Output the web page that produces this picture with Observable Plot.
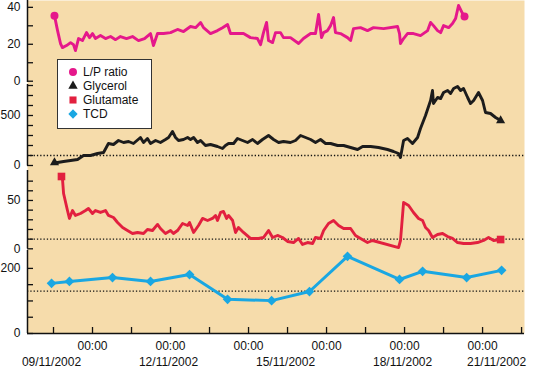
<!DOCTYPE html>
<html><head><meta charset="utf-8">
<script src="https://cdn.jsdelivr.net/npm/d3@7"></script>
<script src="https://cdn.jsdelivr.net/npm/@observablehq/plot@0.6"></script>
<style>
body{margin:0;background:#fff;}
#chart{position:relative;width:548px;height:368px;overflow:hidden;font-family:'Liberation Sans',Arial,Helvetica,sans-serif;}
#chart svg.plotlayer{position:absolute;left:0;top:0;}
#legend{position:absolute;left:57px;top:59px;width:95px;height:70px;box-sizing:border-box;border:1.5px solid #333;background:#fff;padding-top:5px;}
#legend .row{position:relative;height:14px;line-height:14px;font-size:12px;color:#111;}
#legend .row svg{position:absolute;left:8px;top:1px;}
#legend .row span{position:absolute;left:25px;top:0;}
</style></head><body>
<div id="chart"><div id="legend"></div></div>
<script>
// ---- series (hours after 09/11/2002 00:00, value) ----
const lpSeries = [[0.6,35.5],[2.5,27.4],[4.3,20.4],[5.5,18.2],[8.0,19.3],[10.5,20.9],[12.3,19.8],[13.5,16.6],[15.4,23.1],[17.8,22.0],[20.3,26.3],[22.2,23.6],[24.0,25.8],[25.8,23.1],[28.9,24.7],[32.0,23.1],[35.1,24.2],[38.2,22.5],[41.2,24.2],[44.9,23.1],[48.6,24.2],[52.3,22.0],[56.0,23.1],[59.7,25.8],[61.5,19.3],[64.0,25.8],[67.7,25.8],[72.0,26.3],[76.3,28.0],[80.0,26.9],[84.3,29.6],[87.4,29.0],[90.5,31.8],[92.3,29.0],[96.6,25.8],[100.9,27.4],[104.0,29.0],[107.1,30.7],[108.9,25.8],[113.2,25.8],[116.9,25.8],[121.2,23.6],[125.5,23.1],[127.4,19.8],[129.2,26.3],[131.1,31.8],[132.3,22.0],[134.8,20.9],[136.6,26.3],[139.7,26.3],[141.5,23.6],[145.8,23.6],[150.8,20.4],[153.8,23.1],[158.2,25.8],[161.2,25.8],[163.1,36.1],[164.9,23.6],[166.2,26.3],[168.6,27.4],[170.5,30.1],[172.3,34.5],[173.5,26.3],[176.6,25.8],[180.9,23.6],[182.8,22.0],[184.6,28.5],[188.9,29.0],[193.2,27.4],[196.9,29.0],[203.1,28.5],[211.7,29.6],[212.9,25.8],[213.5,20.4],[215.4,23.1],[217.8,25.8],[221.5,25.8],[225.8,24.7],[230.2,27.4],[232.0,31.8],[233.8,30.1],[236.3,27.4],[238.2,26.3],[240.0,30.1],[243.1,29.0],[245.5,31.2],[247.4,33.9],[249.2,41.0],[251.7,36.6],[252.9,35.0]];

const glycerolSeries = [[0.6,30],[2.5,30],[6.2,40],[10.5,50],[14.8,60],[18.5,100],[22.8,100],[27.1,120],[30.8,130],[33.8,220],[36.9,210],[40.0,250],[43.1,230],[46.2,240],[49.2,220],[53.5,280],[55.4,230],[57.8,270],[59.7,220],[62.8,250],[65.8,230],[68.9,260],[70.8,280],[73.2,340],[75.1,280],[76.9,250],[80.0,260],[82.5,280],[84.3,260],[86.2,280],[88.6,230],[90.5,250],[93.5,200],[96.6,210],[100.9,190],[104.0,170],[105.8,200],[107.7,220],[110.8,220],[113.2,270],[116.3,250],[119.4,230],[122.5,260],[125.5,220],[128.6,260],[132.3,300],[135.4,260],[138.5,230],[141.5,240],[145.8,230],[148.9,250],[152.0,300],[155.1,280],[158.2,260],[161.2,230],[164.3,260],[167.4,220],[170.5,220],[174.8,200],[178.5,200],[182.8,180],[187.1,160],[190.2,190],[195.1,190],[200.0,180],[205.5,160],[209.2,140],[212.3,120],[213.5,80],[215.4,250],[217.8,270],[220.9,220],[224.0,280],[225.8,370],[228.9,500],[232.0,650],[233.2,750],[233.8,620],[236.3,680],[238.2,670],[240.0,730],[242.5,750],[244.3,720],[246.2,770],[248.6,790],[250.5,750],[252.3,770],[254.8,680],[256.6,620],[258.5,650],[261.5,730],[264.0,650],[265.8,530],[268.9,520],[272.0,480],[275.1,450]];

const glutamateSeries = [[4.9,74.8],[5.5,72.8],[6.2,57.2],[8.6,39.6],[9.8,31.4],[11.7,39.6],[13.5,34.5],[16.6,36.5],[19.7,39.6],[21.5,41.7],[24.0,36.5],[25.8,39.6],[28.9,37.6],[32.0,39.6],[33.8,34.5],[36.9,32.4],[39.4,27.2],[42.5,22.0],[45.5,19.0],[48.6,15.8],[51.7,16.9],[55.4,15.8],[57.8,20.0],[60.9,18.9],[64.0,25.2],[65.8,21.0],[68.9,15.8],[72.0,18.9],[73.8,15.8],[76.3,18.9],[79.4,26.2],[82.5,24.1],[83.7,27.2],[86.2,16.9],[89.2,24.1],[91.7,31.4],[94.8,29.3],[97.8,31.4],[99.7,34.5],[100.9,29.3],[102.8,37.6],[104.6,38.6],[106.5,31.4],[107.7,34.5],[110.2,29.3],[112.0,16.9],[113.8,22.0],[116.9,16.9],[121.2,10.7],[126.2,10.7],[129.2,11.7],[132.3,18.9],[134.8,11.7],[137.8,13.8],[140.9,11.7],[144.0,7.6],[147.7,6.5],[150.8,10.7],[153.2,4.5],[156.3,6.5],[159.4,5.5],[161.2,11.7],[164.3,10.7],[166.2,18.9],[169.2,26.2],[172.3,29.3],[175.4,24.1],[178.5,21.0],[182.8,21.0],[185.8,13.8],[188.9,10.7],[193.2,6.5],[196.3,8.6],[212.3,1.3],[213.5,8.6],[215.4,47.9],[218.5,44.8],[221.5,37.6],[224.6,31.4],[227.1,29.3],[228.9,22.0],[230.8,19.0],[233.2,11.7],[236.3,14.8],[239.4,15.8],[242.5,12.7],[245.5,10.7],[248.6,6.5],[252.3,5.5],[256.6,5.5],[260.9,6.5],[264.6,8.6],[267.7,11.7],[270.8,8.6],[275.1,9.6]];

const tcdSeries = [[-1.2,154],[9.8,160],[36.3,172],[59.7,160],[83.7,181],[107.1,105],[134.2,101],[157.5,129],[180.9,237],[212.9,166],[227.1,191],[254.2,172],[275.7,194]];

// ---- reference thresholds ----
const glycerolRef = [100];
const glutamateRef = [10];
const tcdRef = [130];

// ---- axes ----
const lpTicks = [0,10,20,30,40], lpLabels = [0,20,40];
const glyTicks = [0,100,200,300,400,500,600,700,800], glyLabels = [0,500];
const gluTicks = [0,10,20,30,40,50,60,70], gluLabels = [0,50];
const tcdTicks = [0,50,100,150,200], tcdLabels = [0,200];
const dayTicks = ["2002-11-09","2002-11-10","2002-11-11","2002-11-12","2002-11-13","2002-11-14","2002-11-15","2002-11-16","2002-11-17","2002-11-18","2002-11-19","2002-11-20","2002-11-21"];
const timeLabelDays = ["2002-11-10","2002-11-12","2002-11-14","2002-11-16","2002-11-18","2002-11-20"];
const dateLabelDays = ["2002-11-09","2002-11-12","2002-11-15","2002-11-18"];
const lastDateLabelDay = ["2002-11-21"];

// ---- legend ----
const seriesNames = ["L/P ratio","Glycerol","Glutamate","TCD"];
const seriesColors = ["#e5188b","#1c1c1c","#e2203f","#1aa7e2"];
const seriesSymbols = ["circle","triangle","square","diamond2"];

// ---- helpers ----
const T0 = Date.UTC(2002, 10, 9);
const toDate = h => new Date(T0 + h * 3600e3);
const dayDate = s => new Date(s + "T00:00:00Z");
const rows = s => s.map(([h, v]) => ({t: toDate(h), v}));
const xDomain = [toDate(-16), toDate(289.8)];
const fmtDate = d => d3.utcFormat("%d/%m/%Y")(d);
const font = "'Liberation Sans', Arial, Helvetica, sans-serif";
const bg = "#f6dcab";

function yAxisMarks(p) {
  return [
    Plot.ruleX([xDomain[0]], {y1: p.domain[0], y2: p.domain[1], stroke: "#111", strokeWidth: 1.5}),
    Plot.axisY({ticks: p.ticks, tickSize: -6, tickFormat: () => "", label: null, stroke: "#111", strokeWidth: 1.3}),
    Plot.axisY({ticks: p.labels, tickSize: 0, tickPadding: 7, label: null, fontSize: 12, fill: "#111"})
  ];
}

function layer(p, marks, bottom = false) {
  const svg = Plot.plot({
    width: 548, height: 368,
    marginLeft: 27, marginRight: 24, marginTop: 0, marginBottom: 35,
    style: {background: "none", fontFamily: font, fontSize: "12px", overflow: "visible"},
    x: bottom ? {type: "utc", domain: xDomain} : {type: "utc", domain: xDomain, axis: null},
    y: {domain: p.domain, range: p.range, label: null},
    marks: [...marks, ...yAxisMarks(p)]
  });
  svg.classList.add("plotlayer");
  document.getElementById("chart").insertBefore(svg, document.getElementById("legend"));
}

const lineOpts = {x: "t", y: "v", strokeWidth: 2.9, strokeLinejoin: "round", strokeLinecap: "round"};
const dotted = {stroke: "#111", strokeWidth: 1.3, strokeDasharray: "1.3,2"};

// L/P ratio
const lp = rows(lpSeries);
layer({domain: [-0.7, 43.7], range: [82, 0], ticks: lpTicks, labels: lpLabels}, [
  Plot.frame({fill: bg, stroke: null}),
  Plot.line(lp, {...lineOpts, stroke: seriesColors[0]}),
  Plot.dot([lp[0], lp[lp.length - 1]], {x: "t", y: "v", r: 4, symbol: seriesSymbols[0], fill: seriesColors[0], stroke: null})
]);

// Glycerol
const gly = rows(glycerolSeries);
layer({domain: [-5, 810], range: [165.5, 84], ticks: glyTicks, labels: glyLabels}, [
  Plot.ruleY(glycerolRef, dotted),
  Plot.line(gly, {...lineOpts, stroke: seriesColors[1]}),
  Plot.dot([gly[0], gly[gly.length - 1]], {x: "t", y: "v", r: 3.4, symbol: seriesSymbols[1], fill: seriesColors[1], stroke: null})
]);

// Glutamate
const glu = rows(glutamateSeries);
layer({domain: [-0.2, 81], range: [248.5, 170], ticks: gluTicks, labels: gluLabels}, [
  Plot.ruleY(glutamateRef, dotted),
  Plot.line(glu, {...lineOpts, stroke: seriesColors[2]}),
  Plot.dot([glu[0], glu[glu.length - 1]], {x: "t", y: "v", r: 4.3, symbol: seriesSymbols[2], fill: seriesColors[2], stroke: null})
]);

// TCD + x axis
const tcd = rows(tcdSeries);
layer({domain: [0, 255], range: [333, 250], ticks: tcdTicks, labels: tcdLabels}, [
  Plot.ruleY(tcdRef, dotted),
  Plot.line(tcd, {...lineOpts, strokeWidth: 3, stroke: seriesColors[3]}),
  Plot.dot(tcd, {x: "t", y: "v", r: 4.4, symbol: seriesSymbols[3], fill: seriesColors[3], stroke: null}),
  Plot.ruleY([0], {stroke: "#111", strokeWidth: 1.5}),
  Plot.axisX({ticks: dayTicks.map(dayDate), tickSize: -6, tickFormat: () => "", label: null, stroke: "#111", strokeWidth: 1.3}),
  Plot.axisX({ticks: timeLabelDays.map(dayDate), tickSize: 0, tickPadding: 8, tickFormat: () => "00:00", label: null, fontSize: 12, fill: "#111"}),
  Plot.axisX({ticks: dateLabelDays.map(dayDate), tickSize: 0, tickPadding: 24, dx: -2, tickFormat: fmtDate, label: null, fontSize: 12, fill: "#111"}),
  Plot.axisX({ticks: lastDateLabelDay.map(dayDate), tickSize: 0, tickPadding: 24, dx: -25, tickFormat: fmtDate, label: null, fontSize: 12, fill: "#111"})
], true);

// legend
const symMap = {circle: d3.symbolCircle, triangle: d3.symbolTriangle, square: d3.symbolSquare, diamond2: d3.symbolDiamond2};
const symSize = {circle: 50, triangle: 38, square: 50, diamond2: 55};
const legend = d3.select("#legend");
seriesNames.forEach((name, i) => {
  const row = legend.append("div").attr("class", "row");
  const s = row.append("svg").attr("width", 14).attr("height", 12);
  s.append("path").attr("transform", "translate(7,6)")
    .attr("d", d3.symbol(symMap[seriesSymbols[i]], symSize[seriesSymbols[i]])())
    .attr("fill", seriesColors[i]);
  row.append("span").text(name);
});
</script>
</body></html>
